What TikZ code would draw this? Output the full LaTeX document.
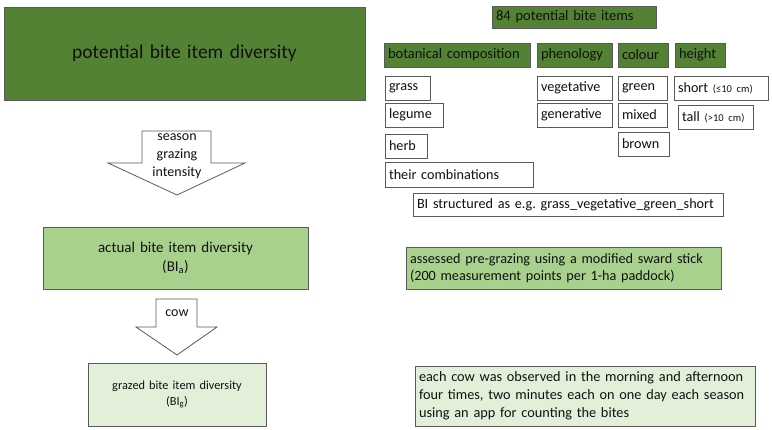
\documentclass[tikz,border=0pt]{standalone}
\usepackage{fontspec}
\setmainfont{Carlito}
\definecolor{dkgreen}{HTML}{548235}
\definecolor{ltgreen}{HTML}{A9D18E}
\definecolor{vlgreen}{HTML}{E2F0D9}
\definecolor{edge}{HTML}{5A5A5A}
\definecolor{txt}{HTML}{111111}
\newcommand\bx[7]{\node[#6, inner xsep=4pt, inner ysep=0pt, text width={#4-#2-8}, minimum height={#5-#3}] (#1) at ({(#2+#4)/2},{(#3+#5)/2}) {#7};}
\begin{document}
\begin{tikzpicture}[x=1pt,y=-1pt,
  dark/.style={draw=edge, fill=dkgreen, line width=0.8pt, text=txt, align=left, font=\fontsize{14.5}{16}\selectfont},
  darkc/.style={dark, align=center, font=\fontsize{19.5}{22}\selectfont},
  wbox/.style={draw=edge, fill=white, line width=0.8pt, text=txt, align=left, font=\fontsize{14.2}{16}\selectfont},
  lbox/.style={draw=edge, fill=ltgreen, line width=0.8pt, text=txt, align=left, font=\fontsize{14.2}{17}\selectfont},
  vbox/.style={draw=edge, fill=vlgreen, line width=0.8pt, text=txt, align=left, font=\fontsize{14.3}{18}\selectfont},
  blockarrow/.style={draw=edge, fill=white, line width=0.8pt},
  alabel/.style={text=txt, align=center, font=\fontsize{14}{18}\selectfont, inner sep=0pt}
]
\useasboundingbox (0,0) rectangle (772,430);
% left column
\bx{pot}{4}{7}{365}{100}{darkc}{potential bite item diversity}
\draw[blockarrow] (142,131) -- (211,131) -- (211,163) -- (245,163) -- (177,195) -- (108,163) -- (142,163) -- cycle;
\node[alabel] (arr1) at (177,156) {season\\grazing\\intensity};
\bx{act}{43}{227}{308}{289}{lbox, align=center, font=\fontsize{15}{19}\selectfont}{actual bite item diversity\\(BI\textsubscript{a})}
\draw[blockarrow] (156,299) -- (197,299) -- (197,327) -- (217,327) -- (177,355) -- (136,327) -- (156,327) -- cycle;
\node[alabel] (arr2) at (177,313) {cow};
\bx{graz}{88}{363}{266}{426}{vbox, align=center, font=\fontsize{12.3}{16}\selectfont}{grazed bite item diversity\\(BI\textsubscript{g})}
% right column
\bx{items}{492}{6}{656}{28}{dark}{84 potential bite items}
\bx{bot}{384}{43}{530}{67}{dark}{botanical composition}
\bx{phen}{537}{43}{612}{67}{dark}{phenology}
\bx{col}{618}{43}{668}{67}{dark}{colour}
\bx{hei}{675}{43}{725}{67}{dark}{height}
\bx{grass}{385}{76}{430}{100}{wbox}{grass}
\bx{legume}{385}{103}{443}{127}{wbox}{legume}
\bx{herb}{385}{134}{427}{158}{wbox}{herb}
\bx{comb}{385}{162}{533}{187}{wbox}{their combinations}
\bx{veg}{537}{76}{612}{100}{wbox}{vegetative}
\bx{gen}{537}{103}{612}{127}{wbox}{generative}
\bx{green}{618}{76}{667}{100}{wbox}{green}
\bx{mixed}{618}{103}{667}{127}{wbox}{mixed}
\bx{brown}{618}{132}{669}{156}{wbox}{brown}
\bx{short}{674}{76}{768}{100}{wbox}{short {\fontsize{10.5}{12}\selectfont(≤10 cm)}}
\bx{tall}{678}{105}{753}{129}{wbox}{tall {\fontsize{10.5}{12}\selectfont(>10 cm)}}
\bx{bis}{413}{193}{723}{216}{wbox}{BI structured as e.g.\ grass\_vegetative\_green\_short}
\bx{assess}{406}{247}{721}{289}{lbox}{assessed pre-grazing using a modified sward stick\\(200 measurement points per 1-ha paddock)}
\bx{cow}{415}{366}{755}{426}{vbox}{each cow was observed in the morning and afternoon\\four times, two minutes each on one day each season\\using an app for counting the bites}
\end{tikzpicture}
\end{document}
